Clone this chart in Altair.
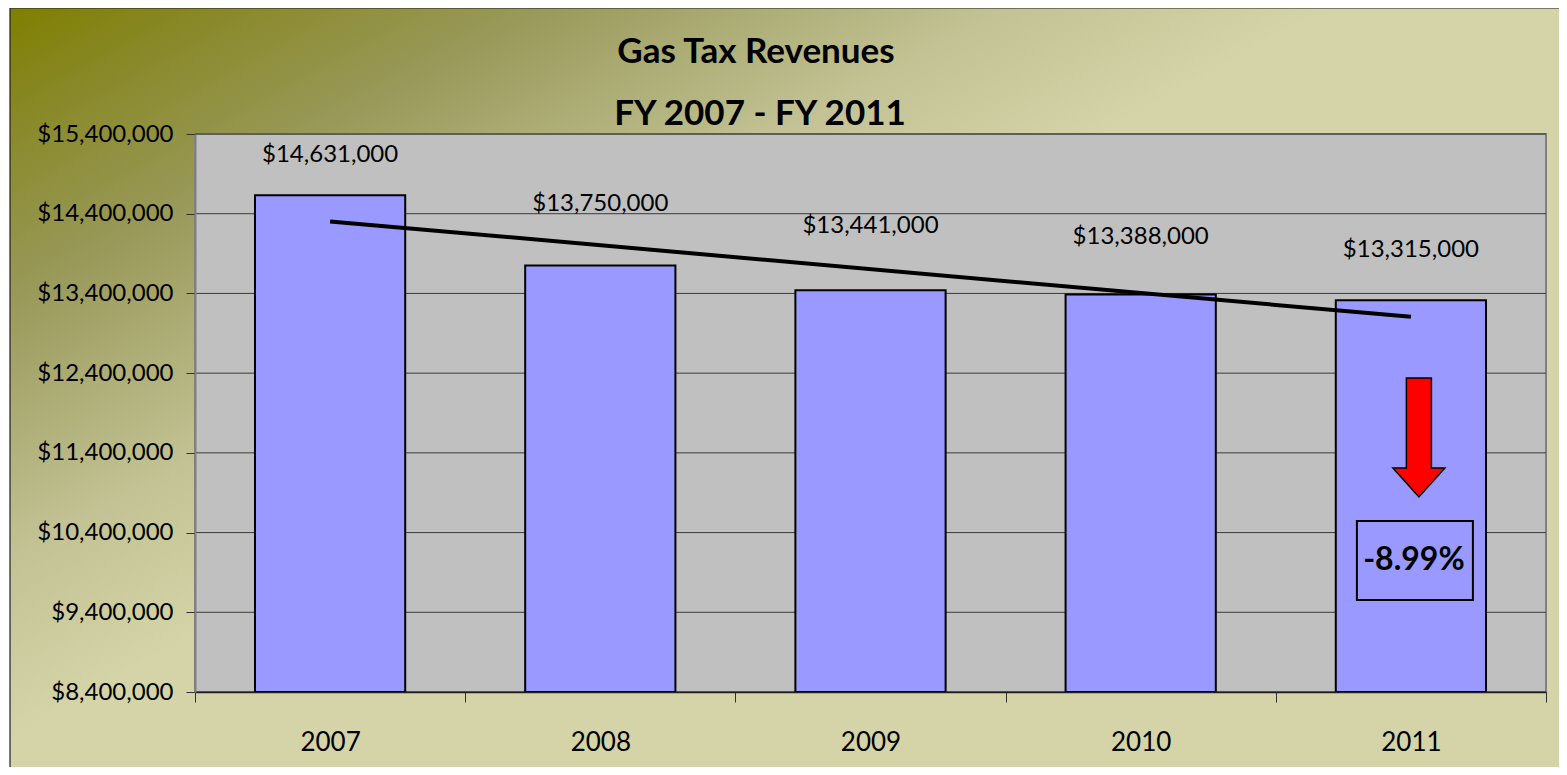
import altair as alt
import pandas as pd

# ---------------- data ----------------
YEARS = ["2007", "2008", "2009", "2010", "2011"]
REVENUE = [14631000, 13750000, 13441000, 13388000, 13315000]
Y_TICKS = [8400000, 9400000, 10400000, 11400000, 12400000, 13400000, 14400000, 15400000]
TITLE_LINES = ["Gas Tax Revenues", "FY 2007 - FY 2011"]

# ---------------- layout / style ----------------
PLOT_W, PLOT_H = 1351, 558
FONT = "Lato"
BAR_COLOR = "#9999FF"
PLOT_BG = "#C0C0C0"

df = pd.DataFrame({"Year": YEARS, "YearNum": [int(y) for y in YEARS], "Revenue": REVENUE})
ticks_df = pd.DataFrame({"tick": Y_TICKS})
change = (REVENUE[-1] - REVENUE[0]) / REVENUE[0] * 100
ann_df = pd.DataFrame({"Year": [YEARS[-1]], "label": [f"{change:.2f}%"]})

x_scale = alt.Scale(domain=YEARS, paddingInner=0, paddingOuter=0)
y_scale = alt.Scale(domain=[Y_TICKS[0], Y_TICKS[-1]], zero=False, nice=False)

x_axis = alt.Axis(title=None, labelAngle=0, labelFont=FONT, labelFontSize=26,
                  labelColor="black", labelPadding=27, tickSize=10, tickColor="#303030",
                  tickBand="extent", domainColor="#202020", domainWidth=1.5, grid=False,
                  zindex=1)
y_axis = alt.Axis(title=None, values=Y_TICKS, format="$,.0f", labelFont=FONT,
                  labelFontSize=24, labelColor="black", labelPadding=13, tickSize=9,
                  tickColor="#303030", domainColor="#808080", domainWidth=2,
                  grid=False, zindex=1)

one = alt.Data(values=[{"k": 1}])

background = alt.Chart(one).mark_rect(
    fill=alt.Gradient(
        gradient="linear",
        stops=[alt.GradientStop(color="#7F7F00", offset=0),
               alt.GradientStop(color="#888826", offset=0.15),
               alt.GradientStop(color="#99995A", offset=0.40),
               alt.GradientStop(color="#C2C294", offset=0.75),
               alt.GradientStop(color="#D4D4A8", offset=1)],
        x1=0, y1=0, x2=0.47, y2=0.42),
    stroke="#202020", strokeWidth=1.2,
).encode(x=alt.value(-185), x2=alt.value(PLOT_W + 30),
         y=alt.value(-126), y2=alt.value(PLOT_H + 90))

plot_bg = alt.Chart(one).mark_rect(fill=PLOT_BG, stroke="#808080", strokeWidth=2).encode(
    x=alt.value(0), x2=alt.value(PLOT_W), y=alt.value(0), y2=alt.value(PLOT_H))

title1 = alt.Chart(one).mark_text(
    text=TITLE_LINES[0], font=FONT, fontSize=35, fontWeight="bold", color="black",
    align="center", baseline="alphabetic",
).encode(x=alt.value(561), y=alt.value(-71))
title2 = alt.Chart(one).mark_text(
    text=TITLE_LINES[1], font=FONT, fontSize=35, fontWeight="bold", color="black",
    align="center", baseline="alphabetic",
).encode(x=alt.value(565), y=alt.value(-9))

grid = alt.Chart(ticks_df).mark_rule(color="#3a3a3a", strokeWidth=1).encode(
    y=alt.Y("tick:Q", scale=y_scale, axis=y_axis))

bars = alt.Chart(df).mark_bar(
    fill=BAR_COLOR, stroke="black", strokeWidth=2, width=alt.RelativeBandSize(0.556)
).encode(
    x=alt.X("Year:N", scale=x_scale, sort=YEARS, axis=x_axis),
    y=alt.Y("Revenue:Q", scale=y_scale, axis=y_axis),
    y2=alt.datum(Y_TICKS[0]),
)

trend = alt.Chart(df).transform_regression("YearNum", "Revenue").transform_calculate(
    Year="toString(datum.YearNum)"
).mark_line(color="black", strokeWidth=4).encode(
    x=alt.X("Year:N", scale=x_scale, sort=YEARS),
    y=alt.Y("Revenue:Q", scale=y_scale),
)

label_dy = {"2007": -40, "2008": -62, "2009": -64, "2010": -57, "2011": -50}
labels = []
for yr in YEARS:
    labels.append(
        alt.Chart(df).transform_filter(alt.datum.Year == yr).mark_text(
            font=FONT, fontSize=24, color="black", baseline="middle", dy=label_dy[yr]
        ).encode(
            x=alt.X("Year:N", scale=x_scale, sort=YEARS),
            y=alt.Y("Revenue:Q", scale=y_scale),
            text=alt.Text("Revenue:Q", format="$,.0f"),
        )
    )

ARROW = "M-0.21,-1L0.21,-1L0.21,0.513L0.437,0.513L0,1L-0.437,0.513L-0.21,0.513Z"
arrow = alt.Chart(ann_df).mark_point(
    shape=ARROW, size=119 * 119, filled=True, fill="#FF0000", stroke="black",
    strokeWidth=1.5, opacity=1, xOffset=8,
).encode(x=alt.X("Year:N", scale=x_scale, sort=YEARS), y=alt.datum(11593000))

BOX = "M-1,-0.68L1,-0.68L1,0.68L-1,0.68Z"
box = alt.Chart(ann_df).mark_point(
    shape=BOX, size=116 * 116, filled=True, fill=BAR_COLOR, stroke="black",
    strokeWidth=2, opacity=1, xOffset=4,
).encode(x=alt.X("Year:N", scale=x_scale, sort=YEARS), y=alt.datum(10050000))

box_text = alt.Chart(ann_df).mark_text(
    font=FONT, fontSize=32, fontWeight="bold", color="black", baseline="middle", xOffset=3
).encode(x=alt.X("Year:N", scale=x_scale, sort=YEARS), y=alt.datum(10050000), text="label:N")

chart = alt.layer(
    background, plot_bg, title1, title2, grid, bars, trend, *labels, arrow, box, box_text
).properties(
    width=PLOT_W,
    height=PLOT_H,
    autosize=alt.AutoSizeParams(type="none"),
    padding={"left": 187, "top": 126, "right": 13, "bottom": 75},
).configure_view(stroke=None).configure(background="white")

chart.save("out.html", embed_options={"renderer": "svg", "actions": False})
